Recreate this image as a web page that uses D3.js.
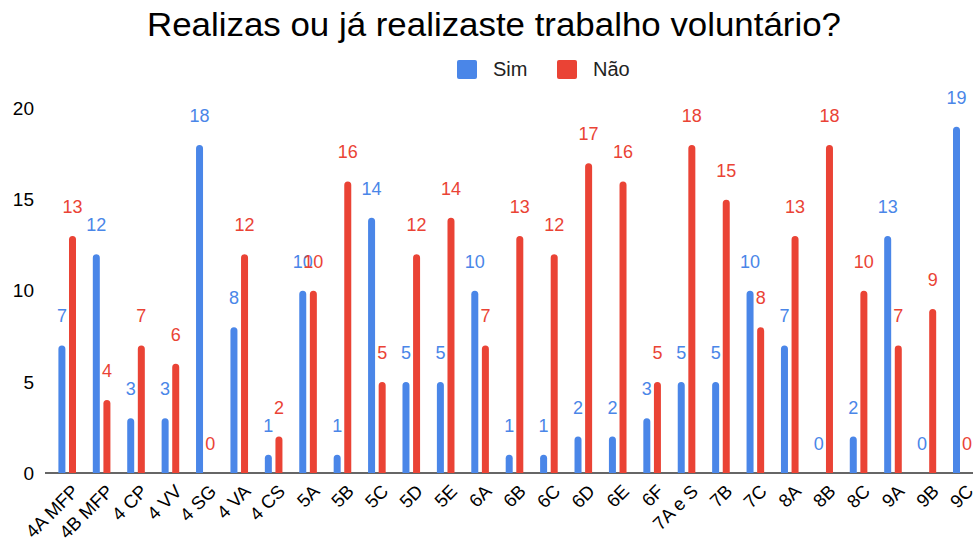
<!DOCTYPE html>
<html>
<head>
<meta charset="utf-8">
<script src="https://cdn.jsdelivr.net/npm/d3@7"></script>
<style>
  body { margin: 0; background: #fff; }
  text { font-family: "Liberation Sans", Arial, sans-serif; }
</style>
</head>
<body>
<script>
// chart data
var categories = ["4A MFP", "4B MFP", "4 CP", "4 VV", "4 SG", "4 VA", "4 CS", "5A", "5B", "5C", "5D", "5E",
  "6A", "6B", "6C", "6D", "6E", "6F", "7A e S", "7B", "7C", "8A", "8B", "8C", "9A", "9B", "9C"];
var simValues = [7, 12, 3, 3, 18, 8, 1, 10, 1, 14, 5, 5, 10, 1, 1, 2, 2, 3, 5, 5, 10, 7, 0, 2, 13, 0, 19];
var naoValues = [13, 4, 7, 6, 0, 12, 2, 10, 16, 5, 12, 14, 7, 13, 12, 17, 16, 5, 18, 15, 8, 13, 18, 10, 7, 9, 0];
var seriesNames = ["Sim", "Não"];
var yTicks = [0, 5, 10, 15, 20];

var width = 973, height = 539;
var colors = ["#4a86e8", "#ea4335"];

var svg = d3.select("body").append("svg")
  .attr("width", width)
  .attr("height", height);

// title
svg.append("text")
  .attr("x", 147)
  .attr("y", 36)
  .attr("font-size", 33)
  .attr("textLength", 694)
  .attr("lengthAdjust", "spacingAndGlyphs")
  .attr("fill", "#000")
  .text("Realizas ou já realizaste trabalho voluntário?");

// legend
var legend = svg.append("g");
var legendX = [457, 557];
seriesNames.forEach(function (name, i) {
  legend.append("rect")
    .attr("x", legendX[i]).attr("y", 60)
    .attr("width", 20).attr("height", 19)
    .attr("rx", 2)
    .attr("fill", colors[i]);
  legend.append("text")
    .attr("x", legendX[i] + 36).attr("y", 76)
    .attr("font-size", 20)
    .attr("fill", "#222")
    .text(name);
});

var x = d3.scaleBand().domain(categories).range([50, 979]).padding(0);
var y = d3.scaleLinear().domain([0, 20]).range([473, 108.5]);

// y tick labels
svg.append("g").selectAll("text")
  .data(yTicks).enter().append("text")
  .attr("x", 34)
  .attr("y", function (d) { return y(d); })
  .attr("dy", "0.35em")
  .attr("text-anchor", "end")
  .attr("font-size", 19)
  .attr("fill", "#000")
  .text(function (d) { return d; });

// baseline
svg.append("line")
  .attr("x1", 45).attr("x2", width)
  .attr("y1", y(0)).attr("y2", y(0))
  .attr("stroke", "#333").attr("stroke-width", 1.5);

var barW = 7, offset = 5.3;

function barPath(cx, v) {
  var x0 = cx - barW / 2, x1 = cx + barW / 2;
  var top = y(v), base = y(0), r = barW / 2;
  if (base - top < r) r = base - top;
  return "M" + x0 + "," + base + "V" + (top + r) +
    "A" + (barW / 2) + "," + r + " 0 0 1 " + x1 + "," + (top + r) +
    "V" + base + "Z";
}

var seriesData = [simValues, naoValues];
seriesData.forEach(function (vals, si) {
  var dx = si === 0 ? -offset : offset;
  var g = svg.append("g");
  g.selectAll("path")
    .data(vals.map(function (v, i) { return { v: v, c: categories[i] }; }).filter(function (d) { return d.v > 0; }))
    .enter().append("path")
    .attr("d", function (d) { return barPath(x(d.c) + x.bandwidth() / 2 + dx, d.v); })
    .attr("fill", colors[si]);
});

// value labels (drawn after bars, red on top)
seriesData.forEach(function (vals, si) {
  var dx = si === 0 ? -offset : offset;
  svg.append("g").selectAll("text")
    .data(vals.map(function (v, i) { return { v: v, c: categories[i] }; }))
    .enter().append("text")
    .attr("x", function (d) { return x(d.c) + x.bandwidth() / 2 + dx; })
    .attr("y", function (d) { return y(d.v) - 23; })
    .attr("text-anchor", "middle")
    .attr("font-size", 18)
    .attr("fill", colors[si])
    .text(function (d) { return d.v; });
});

// x labels
svg.append("g").selectAll("text")
  .data(categories).enter().append("text")
  .attr("transform", function (d) {
    return "translate(" + (x(d) + x.bandwidth() / 2 + 8) + "," + 488 + ") rotate(-45)";
  })
  .attr("text-anchor", "end")
  .attr("dy", "0.35em")
  .attr("font-size", 18.5)
  .attr("fill", "#000")
  .text(function (d) { return d; });
</script>
</body>
</html>
